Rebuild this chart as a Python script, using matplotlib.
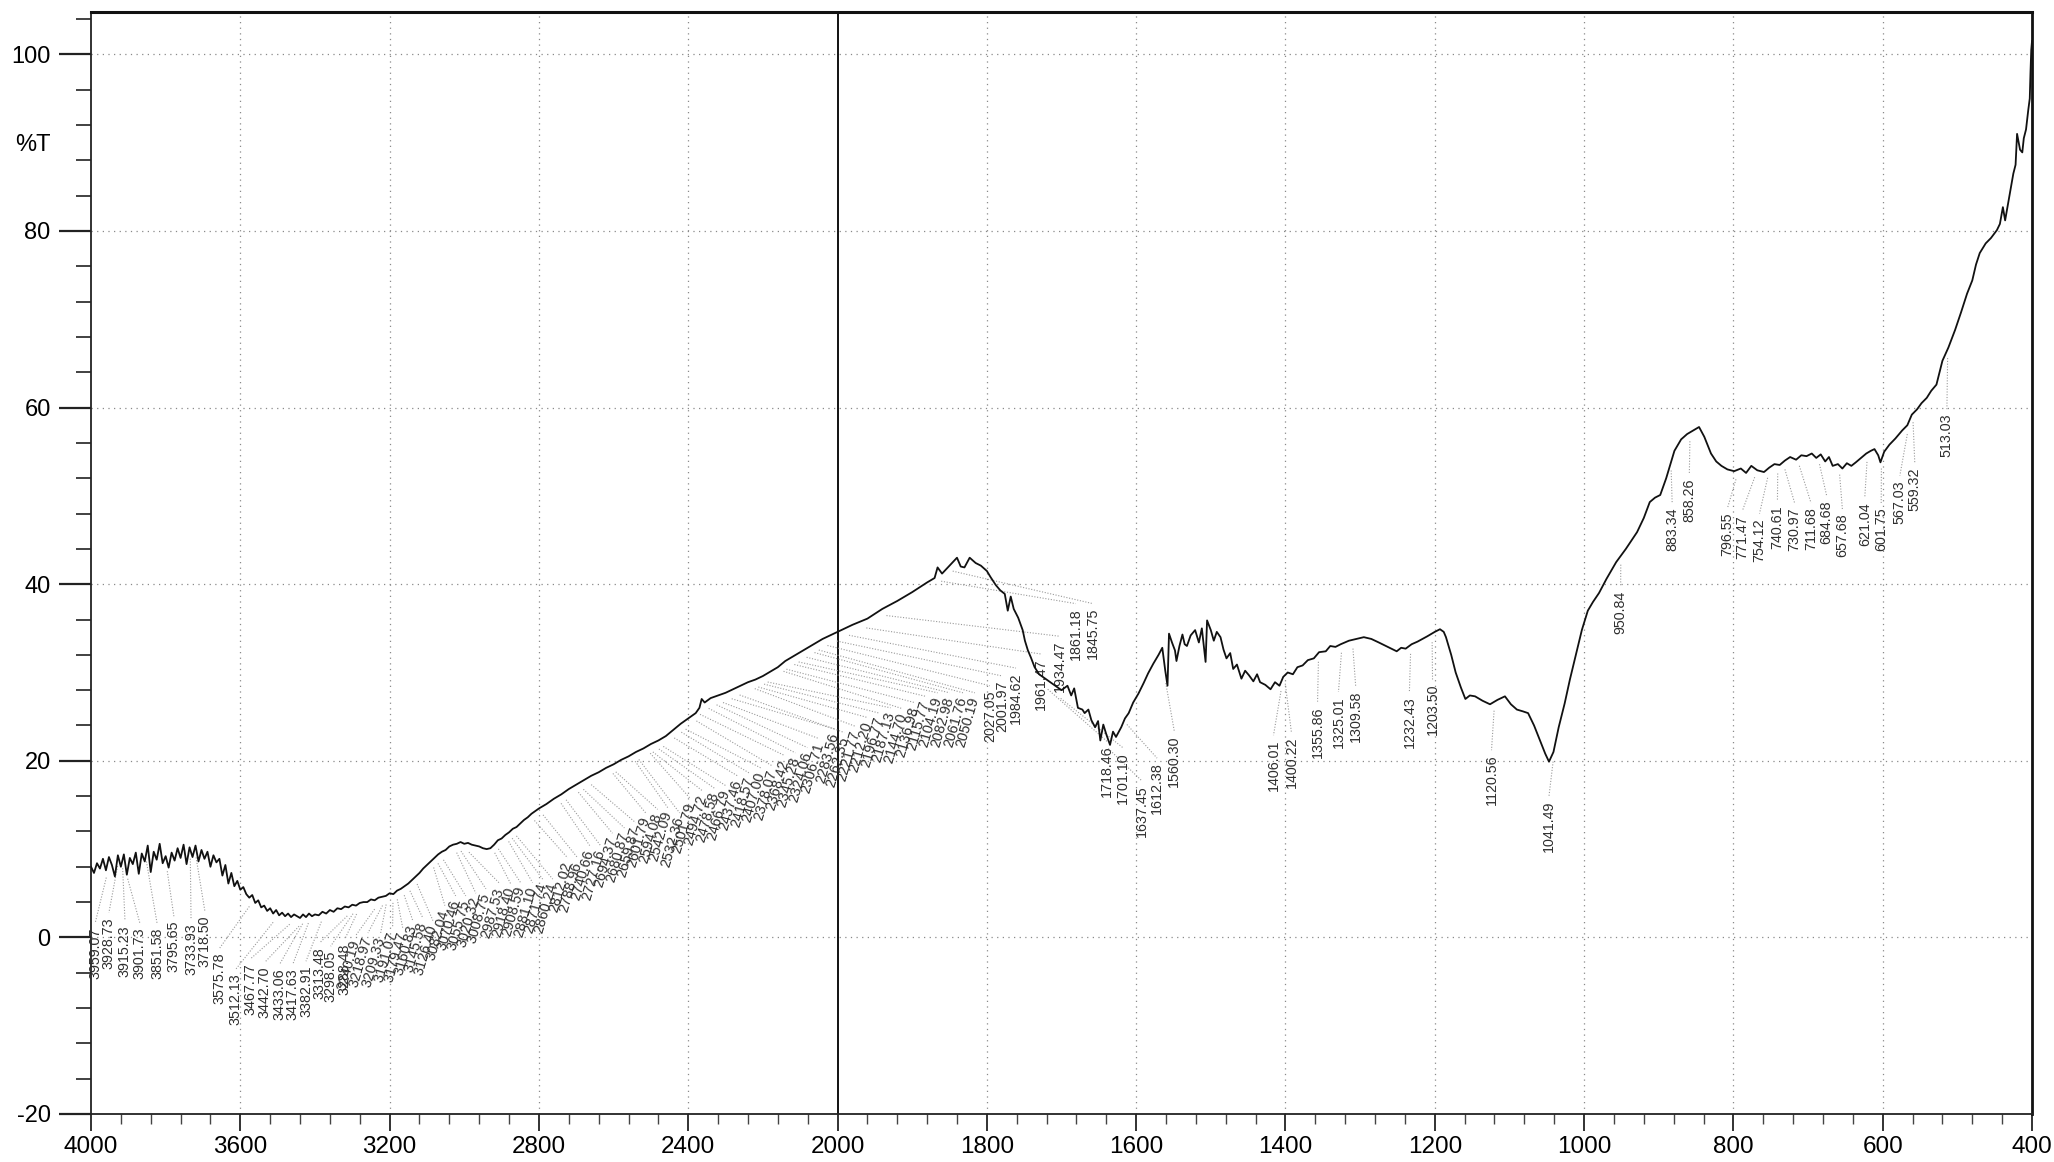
import numpy as np
import matplotlib
matplotlib.use("Agg")
import matplotlib.pyplot as plt
from matplotlib.ticker import FixedLocator, NullFormatter

plt.rcParams['font.family'] = ['Liberation Sans', 'DejaVu Sans']

# ---------------- data: spectrum (wavenumber cm-1, %T) ----------------
wavenumber = [
    4000, 3992, 3984, 3976, 3968, 3960, 3952, 3944, 3936, 3928, 3920, 3912, 3904, 3896, 3888, 3880,
    3872, 3864, 3856, 3848, 3840, 3832, 3824, 3816, 3808, 3800, 3792, 3784, 3776, 3768, 3760, 3752,
    3744, 3736, 3728, 3720, 3712, 3704, 3696, 3688, 3680, 3672, 3664, 3656, 3648, 3640, 3632, 3624,
    3616, 3608, 3600, 3592, 3584, 3576, 3568, 3560, 3552, 3544, 3536, 3528, 3520, 3512, 3504, 3496,
    3488, 3480, 3472, 3464, 3456, 3448, 3440, 3432, 3424, 3416, 3408, 3400, 3390, 3380, 3370, 3360,
    3350, 3340, 3330, 3320, 3310, 3300, 3290, 3280, 3270, 3260, 3250, 3240, 3230, 3220, 3210, 3200,
    3190, 3180, 3170, 3160, 3150, 3140, 3130, 3120, 3110, 3100, 3090, 3080, 3070, 3060, 3050, 3040,
    3030, 3020, 3010, 3000, 2990, 2980, 2970, 2960, 2950, 2940, 2930, 2920, 2910, 2900, 2890, 2880,
    2870, 2860, 2850, 2840, 2830, 2820, 2810, 2800, 2780, 2760, 2740, 2720, 2700, 2680, 2660, 2640,
    2620, 2600, 2580, 2560, 2540, 2520, 2500, 2480, 2460, 2440, 2420, 2400, 2380, 2370, 2364, 2356,
    2340, 2320, 2300, 2280, 2260, 2240, 2220, 2200, 2180, 2160, 2140, 2120, 2100, 2080, 2060, 2040,
    2020, 2000, 1980, 1960, 1940, 1920, 1900, 1880, 1870, 1866, 1860, 1850, 1840, 1835, 1830, 1823,
    1815, 1808, 1800, 1795, 1788, 1782, 1776, 1772, 1768, 1764, 1758, 1752, 1749, 1745, 1741, 1736,
    1730, 1720, 1710, 1700, 1692, 1687, 1683, 1678, 1672, 1669, 1664, 1660, 1655, 1651, 1648, 1644,
    1640, 1635, 1631, 1627, 1620, 1615, 1610, 1604, 1597, 1590, 1584, 1577, 1570, 1565, 1561, 1558,
    1556, 1552, 1548, 1546, 1542, 1538, 1535, 1532, 1527, 1521, 1516, 1512, 1507, 1505, 1500, 1496,
    1492, 1487, 1483, 1479, 1474, 1470, 1465, 1459, 1454, 1449, 1443, 1438, 1434, 1427, 1420, 1414,
    1408, 1403, 1397, 1390, 1384, 1377, 1370, 1362, 1355, 1346, 1340, 1333, 1326, 1315, 1305, 1295,
    1285, 1275, 1263, 1251, 1245, 1239, 1231, 1223, 1210, 1200, 1193, 1188, 1185, 1178, 1172, 1165,
    1159, 1153, 1146, 1136, 1126, 1116, 1106, 1098, 1090, 1082, 1075, 1067, 1059, 1052, 1047, 1041,
    1034, 1026, 1019, 1011, 1003, 995, 988, 980, 970, 957, 944, 929, 920, 912, 905, 898,
    890, 879, 870, 862, 854, 846, 839, 830, 823, 816, 808, 799, 790, 783, 776, 768,
    759, 752, 745, 738, 731, 724, 716, 709, 702, 695, 689, 683, 677, 672, 667, 660,
    654, 648, 642, 636, 629, 622, 616, 611, 606, 603, 598, 591, 583, 574, 567, 561,
    554, 548, 541, 535, 528, 520, 512, 503, 495, 487, 480, 475, 470, 462, 455, 447,
    443, 439, 436, 431, 425, 422, 420, 416, 413, 411, 408, 405, 403, 402, 401, 400,
]
transmittance = [
    8.0, 7.3, 8.4, 7.8, 8.9, 7.6, 9.1, 8.2, 6.9, 9.3, 8.0, 9.4, 7.1, 9.0, 8.3, 9.6,
    7.2, 9.5, 8.6, 10.4, 7.4, 9.7, 8.8, 10.6, 8.4, 9.2, 7.9, 9.6, 8.7, 10.1, 9.0, 10.5,
    8.3, 10.2, 9.1, 10.4, 8.6, 9.9, 8.9, 9.7, 8.0, 9.3, 8.5, 8.9, 7.0, 8.2, 6.1, 7.3,
    5.8, 6.4, 5.4, 5.7, 4.9, 4.5, 4.8, 3.9, 4.2, 3.4, 3.6, 3.0, 3.3, 2.7, 3.1, 2.5,
    2.8, 2.4, 2.7, 2.3, 2.6, 2.4, 2.2, 2.6, 2.3, 2.7, 2.4, 2.6, 2.5, 2.9, 2.7, 3.1,
    2.9, 3.3, 3.2, 3.5, 3.4, 3.7, 3.6, 3.9, 4.0, 4.0, 4.3, 4.2, 4.5, 4.6, 4.7, 5.0,
    4.9, 5.3, 5.5, 5.8, 6.1, 6.5, 6.9, 7.3, 7.8, 8.2, 8.6, 9.0, 9.4, 9.7, 9.9, 10.3,
    10.5, 10.6, 10.8, 10.6, 10.7, 10.5, 10.4, 10.3, 10.1, 10.0, 10.1, 10.5, 11.0, 11.2, 11.6, 11.9,
    12.3, 12.5, 12.9, 13.3, 13.6, 14.0, 14.3, 14.6, 15.1, 15.7, 16.2, 16.8, 17.3, 17.8, 18.3, 18.7,
    19.2, 19.6, 20.1, 20.5, 21.0, 21.4, 21.9, 22.3, 22.8, 23.5, 24.2, 24.8, 25.4, 26.0, 27.0, 26.6,
    27.1, 27.4, 27.7, 28.1, 28.5, 28.9, 29.2, 29.6, 30.1, 30.6, 31.3, 31.8, 32.3, 32.8, 33.3, 33.8,
    34.2, 34.6, 35.4, 36.1, 37.2, 38.1, 39.1, 40.2, 40.7, 41.9, 41.2, 42.1, 43.0, 42.0, 41.9, 43.0,
    42.4, 42.1, 41.5, 40.8, 39.9, 39.3, 38.9, 37.0, 38.6, 37.2, 36.2, 34.8, 33.6, 32.5, 31.7, 30.6,
    29.8, 29.2, 28.6, 28.0, 28.5, 27.4, 28.2, 26.0, 25.8, 25.4, 25.8, 24.6, 23.8, 24.5, 22.3, 24.1,
    23.0, 21.8, 23.3, 22.7, 23.8, 24.8, 25.4, 26.6, 27.6, 28.8, 29.9, 31.0, 32.0, 32.8, 30.2, 28.5,
    34.4, 33.4, 32.5, 31.3, 33.0, 34.3, 33.2, 33.0, 34.2, 34.8, 33.4, 35.0, 31.2, 35.9, 34.8, 33.6,
    34.6, 34.0, 32.6, 31.6, 32.2, 30.4, 30.9, 29.3, 30.2, 29.7, 29.0, 29.8, 28.9, 28.6, 28.1, 28.9,
    28.5, 29.5, 30.0, 29.8, 30.6, 30.8, 31.4, 31.6, 32.3, 32.4, 33.0, 32.9, 33.2, 33.6, 33.8, 34.0,
    33.8, 33.4, 32.9, 32.4, 32.8, 32.7, 33.2, 33.5, 34.1, 34.6, 34.9, 34.6, 34.0, 32.0, 30.0, 28.3,
    27.0, 27.4, 27.3, 26.8, 26.4, 26.9, 27.3, 26.4, 25.8, 25.6, 25.4, 24.0, 22.3, 20.8, 19.9, 21.0,
    23.8, 26.5, 29.2, 32.0, 34.8, 37.0, 38.0, 39.0, 40.6, 42.5, 44.0, 45.9, 47.5, 49.3, 49.8, 50.1,
    52.0, 55.1, 56.4, 57.0, 57.4, 57.8, 56.7, 54.8, 53.9, 53.4, 53.0, 52.8, 53.1, 52.6, 53.4, 52.9,
    52.7, 53.2, 53.6, 53.5, 54.0, 54.4, 54.1, 54.6, 54.5, 54.8, 54.3, 54.7, 53.9, 54.4, 53.4, 53.6,
    53.1, 53.7, 53.4, 53.8, 54.3, 54.8, 55.1, 55.3, 54.6, 53.8, 55.0, 55.8, 56.5, 57.4, 58.0, 59.2,
    59.8, 60.5, 61.1, 61.9, 62.6, 65.3, 66.8, 68.8, 70.8, 72.9, 74.4, 76.2, 77.5, 78.6, 79.2, 80.1,
    80.8, 82.7, 81.2, 83.6, 86.5, 87.5, 91.0, 89.2, 88.9, 90.5, 91.5, 93.7, 95.0, 98.0, 100.5, 101.5,
]

# ---------------- peak labels ----------------
peak_labels = [
    "3959.07", "3928.73", "3915.23", "3901.73", "3851.58", "3795.65", "3733.93", "3718.50",
    "3575.78", "3512.13", "3467.77", "3442.70", "3433.06", "3417.63", "3382.91", "3313.48",
    "3298.05", "3288.48", "3240.19", "3218.97", "3209.33", "3191.07", "3179.47", "3160.83",
    "3145.58", "3126.40", "3082.04", "3070.46", "3055.75", "3020.32", "3008.75", "2987.53",
    "2918.40", "2908.59", "2881.10", "2871.74", "2860.24", "2812.02", "2788.96", "2740.66",
    "2727.16", "2694.37", "2680.87", "2659.87", "2601.79", "2594.08", "2542.09", "2532.36",
    "2501.79", "2494.72", "2478.58", "2466.79", "2437.46", "2418.57", "2407.00", "2378.07",
    "2368.42", "2345.28", "2324.06", "2306.71", "2283.56", "2262.35", "2221.77", "2212.20",
    "2196.77", "2187.13", "2144.70", "2136.98", "2115.77", "2104.19", "2082.98", "2061.76",
    "2050.19", "2027.05", "2001.97", "1984.62", "1961.47", "1934.47", "1861.18", "1845.75",
    "1718.46", "1701.10", "1637.45", "1612.38", "1560.30", "1406.01", "1400.22", "1355.86",
    "1325.01", "1309.58", "1232.43", "1203.50", "1120.56", "1041.49", "950.84", "883.34",
    "858.26", "796.55", "771.47", "754.12", "740.61", "730.97", "711.68", "684.68",
    "657.68", "621.04", "601.75", "567.03", "559.32", "513.03",
]

# label placement (layout): x in cm-1, top end in %T, text angle
label_x = [
    3989, 3952, 3909, 3869, 3823, 3778, 3732, 3695, 3655, 3612, 3572, 3534, 3494, 3459, 3424, 3387,
    3358, 3320, 3291, 3258, 3224, 3192, 3165, 3138, 3111, 3084, 3052, 3023, 2996, 2969, 2942, 2905,
    2876, 2849, 2817, 2790, 2763, 2723, 2696, 2664, 2635, 2603, 2571, 2541, 2514, 2482, 2455, 2423,
    2394, 2362, 2330, 2300, 2268, 2236, 2206, 2174, 2142, 2113, 2081, 2049, 2008, 1991, 1976, 1960,
    1944, 1929, 1913, 1897, 1882, 1866, 1850, 1832, 1816, 1796, 1779, 1761, 1728, 1702, 1681, 1658,
    1639, 1618, 1592, 1572, 1549, 1416, 1392, 1357, 1329, 1306, 1234, 1203, 1124, 1047, 951, 882,
    859, 808, 788, 765, 741, 718, 696, 675, 654, 624, 602, 577, 557, 514,
]
label_y = [
    1.1, 2.3, 1.4, 1.1, 1.1, 1.9, 1.6, 2.5, -1.7, -4.1, -2.9, -3.3, -3.5, -3.5, -3.2, -1.1,
    -1.5, -0.7, -0.3, 0.0, 0.0, 0.6, 0.6, 1.4, 1.7, 1.4, 3.1, 4.2, 4.2, 4.5, 5.0, 5.6,
    5.6, 5.7, 5.7, 6.1, 6.1, 8.5, 8.5, 9.9, 9.9, 11.3, 11.9, 12.5, 13.6, 14.0, 14.2, 13.6,
    15.2, 16.1, 16.4, 16.7, 17.8, 18.1, 18.7, 18.9, 20.1, 20.4, 21.0, 22.0, 23.1, 22.7, 23.4, 24.4,
    24.9, 25.5, 25.4, 26.1, 26.8, 27.2, 27.2, 27.2, 27.2, 28.0, 29.1, 30.0, 31.6, 33.6, 37.3, 37.3,
    21.7, 21.0, 17.2, 19.8, 22.9, 22.4, 22.7, 26.2, 27.3, 28.0, 27.3, 28.7, 20.7, 15.5, 39.3, 48.7,
    52.0, 48.1, 47.8, 47.5, 48.9, 48.7, 48.7, 49.5, 48.0, 49.3, 48.7, 51.8, 53.2, 59.3,
]
label_rot = [90] * 18 + [74] * 55 + [90] * 37

x_major = [4000, 3600, 3200, 2800, 2400, 2000, 1800, 1600, 1400, 1200, 1000, 800, 600, 400]
x_minor = ([v for v in range(4000, 2000, -80)] + [v for v in range(2000, 399, -40)])
y_major = [-20, 0, 20, 40, 60, 80, 100]
y_minor = list(range(-20, 105, 4))


# ---------------- scale: 4000-2000 compressed, 2000-400 expanded x2 (monotonic increasing) ----------------
def fwd(w):
    w = np.asarray(w, dtype=float)
    return np.where(w >= 2000, w - 4000.0, 2.0 * w - 6000.0)


def inv(u):
    u = np.asarray(u, dtype=float)
    return np.where(u >= -2000, u + 4000.0, (u + 6000.0) / 2.0)


W, H = 2054, 1162
fig = plt.figure(figsize=(W / 100, H / 100), dpi=100)
ax = fig.add_axes([91 / W, (H - 1114) / H, (2032 - 91) / W, (1114 - 12) / H])
ax.set_xscale('function', functions=(fwd, inv))
ax.set_xlim(4000, 400)
ax.set_ylim(-20, 104.8)

wn = np.array(wavenumber, dtype=float)
tr = np.array(transmittance, dtype=float)

# grid
grid_kw = dict(color='#8a8a8a', lw=0.9, ls=(0, (1, 3.5)), zorder=0)
for v in x_major:
    if v in (4000, 400):
        continue
    if v == 2000:
        ax.axvline(v, color='#111111', lw=1.4, zorder=1)
    else:
        ax.axvline(v, **grid_kw)
for v in y_major[1:]:
    ax.axhline(v, **grid_kw)

# leader lines + labels
for txt, lx, ly, rot in zip(peak_labels, label_x, label_y, label_rot):
    pk = float(txt)
    yc = float(np.interp(pk, wn[::-1], tr[::-1]))
    ax.plot([pk, lx], [yc - 1.0, ly + 0.5], ls=(0, (1, 1.5)), color='#9a9a9a', lw=0.8, zorder=2)
    ax.text(lx, ly, txt, rotation=rot, rotation_mode='anchor', ha='right', va='center',
            fontsize=10.3, color='#2e2e2e', zorder=3)

# spectrum
ax.plot(wn, tr, color='#111111', lw=1.3, zorder=4)

# axes styling
ax.xaxis.set_major_locator(FixedLocator(x_major))
ax.xaxis.set_minor_locator(FixedLocator(x_minor))
ax.set_xticklabels([str(v) for v in x_major])
ax.xaxis.set_minor_formatter(NullFormatter())
ax.yaxis.set_major_locator(FixedLocator(y_major))
ax.yaxis.set_minor_locator(FixedLocator(y_minor))
ax.set_yticklabels([str(v) for v in y_major])

ax.tick_params(axis='y', which='major', direction='out', length=23, width=1.6,
               labelsize=17, pad=6, color='#222222')
ax.tick_params(axis='y', which='minor', direction='out', length=11, width=1.3, color='#333333')
ax.tick_params(axis='x', which='major', direction='out', length=12, width=1.3,
               labelsize=17.5, pad=4, color='#222222')
ax.tick_params(axis='x', which='minor', direction='out', length=7, width=1.0, color='#444444')

for s in ('left', 'bottom'):
    ax.spines[s].set_linewidth(1.3)
    ax.spines[s].set_color('#222222')
ax.spines['top'].set_linewidth(2.2)
ax.spines['top'].set_color('#111111')
ax.spines['right'].set_linewidth(2.0)
ax.spines['right'].set_color('#111111')
ax.spines['right'].set_linestyle((0, (5, 1)))

fig.text(15 / W, 1 - 145 / H, '%T', fontsize=17, ha='left', va='center')

fig.savefig('out.png', dpi=100, facecolor='white')
